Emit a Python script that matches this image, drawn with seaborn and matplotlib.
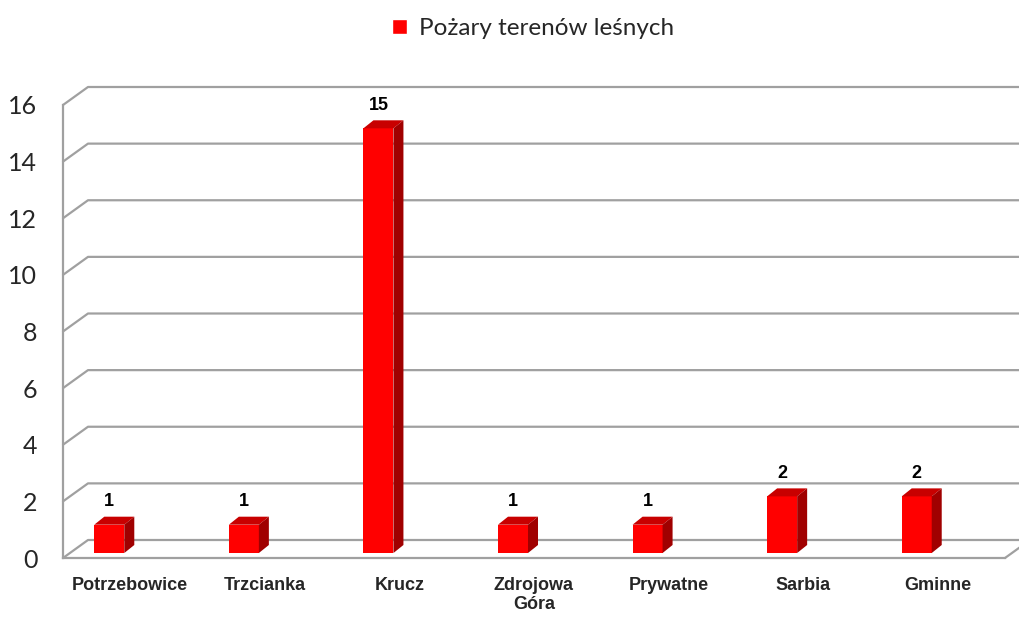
import matplotlib
matplotlib.use('Agg')
import matplotlib.pyplot as plt
import matplotlib.transforms as mtransforms
from matplotlib.patches import Polygon, Patch
from matplotlib import font_manager
import seaborn as sns
import pandas as pd

# data
categories = ['Potrzebowice', 'Trzcianka', 'Krucz', 'Zdrojowa\nGóra', 'Prywatne', 'Sarbia', 'Gminne']
values = [1, 1, 15, 1, 1, 2, 2]
series_name = 'Pożary terenów leśnych'
y_ticks = [0, 2, 4, 6, 8, 10, 12, 14, 16]

sns.set_style('white')
names = {f.name for f in font_manager.fontManager.ttflist}
narrow = 'Liberation Sans Narrow' if 'Liberation Sans Narrow' in names else 'Liberation Sans'
lab_size = 15 if narrow == 'Liberation Sans Narrow' else 13
plt.rcParams['font.family'] = ['Lato', 'DejaVu Sans']

df = pd.DataFrame({'cat': categories, 'val': values})

fig = plt.figure(figsize=(10.19, 6.17), dpi=100)
ax = fig.add_axes([63 / 1019, 59 / 617, 942 / 1019, 453 / 617])

grid_col = '#a0a0a0'
front_col = '#ff0000'
top_col = '#c80000'
side_col = '#a00000'

def shift(dx, dy):
    return ax.transData + mtransforms.ScaledTranslation(dx / 100, dy / 100, fig.dpi_scale_trans)

bar_w = 0.223
bar_dx, bar_dy = -21, 5     # front face offset (px)
dep_x, dep_y = 10, 8        # bar depth (px)
wall_x, wall_y = 25, 18     # back wall depth (px)

sns.barplot(data=df, x='cat', y='val', color=front_col, width=bar_w,
            saturation=1, ax=ax, zorder=3)
ax.set_xlim(-0.5, len(categories) - 0.5)
ax.set_ylim(0, 16)

front = shift(bar_dx, bar_dy)
back = shift(bar_dx + dep_x, bar_dy + dep_y)
for p in ax.patches:
    p.set_transform(front)
    p.set_edgecolor('none')
    x0, x1 = p.get_x(), p.get_x() + p.get_width()
    h = p.get_height()
    # top and side faces in display space
    f_tl = front.transform((x0, h)); f_tr = front.transform((x1, h)); f_br = front.transform((x1, 0))
    b_tl = back.transform((x0, h)); b_tr = back.transform((x1, h)); b_br = back.transform((x1, 0))
    fig.patches.append(Polygon([f_tl, f_tr, b_tr, b_tl], closed=True, facecolor=top_col,
                               edgecolor='none', transform=None, zorder=4))
    fig.patches.append(Polygon([f_br, f_tr, b_tr, b_br], closed=True, facecolor=side_col,
                               edgecolor='none', transform=None, zorder=4))
    ax.text((x0 + x1) / 2, h, f'{int(h)}', transform=shift(bar_dx, bar_dy + 23),
            ha='center', va='center', fontsize=lab_size, fontweight='bold', family=narrow,
            color='black')

# back wall gridlines
wall = shift(wall_x, wall_y)
xl, xr = ax.get_xlim()
for v in y_ticks:
    p0 = ax.transData.transform((xl, v))
    p1 = wall.transform((xl, v))
    p2 = wall.transform((xr, v))
    ax.plot([p0[0], p1[0], p2[0]], [p0[1], p1[1], p2[1]], color=grid_col, lw=1.6,
            transform=None, clip_on=False, zorder=1)
# floor right edge
q0 = ax.transData.transform((xr, 0)); q1 = wall.transform((xr, 0))
ax.plot([q0[0], q1[0]], [q0[1], q1[1]], color=grid_col, lw=1.6, transform=None,
        clip_on=False, zorder=1)

for s in ['top', 'right']:
    ax.spines[s].set_visible(False)
for s in ['left', 'bottom']:
    ax.spines[s].set_color(grid_col)
    ax.spines[s].set_linewidth(1.6)

ax.set_yticks(y_ticks)
ax.tick_params(axis='y', length=6.5, width=1.3, color=grid_col, pad=12, labelsize=18)
ax.set_xticks([i - 0.5 for i in range(len(categories) + 1)])
ax.set_xticklabels([])
ax.set_xticks(range(len(categories)), minor=True)
ax.set_xticklabels(categories, minor=True, fontsize=lab_size, fontweight='bold', family=narrow,
                   linespacing=1.15)
ax.tick_params(axis='x', which='major', length=5, width=1.3, color=grid_col, direction='out')
ax.tick_params(axis='x', which='minor', length=0, pad=14)
ax.set_xlabel('')
ax.set_ylabel('')
ax.patch.set_alpha(0)

fig.legend(handles=[Patch(facecolor=front_col, label=series_name)], loc='center',
           bbox_to_anchor=(0.523, 0.954), frameon=False, fontsize=17.5,
           handlelength=0.6, handleheight=0.6, handletextpad=0.5)

fig.savefig('out.png', dpi=100)
